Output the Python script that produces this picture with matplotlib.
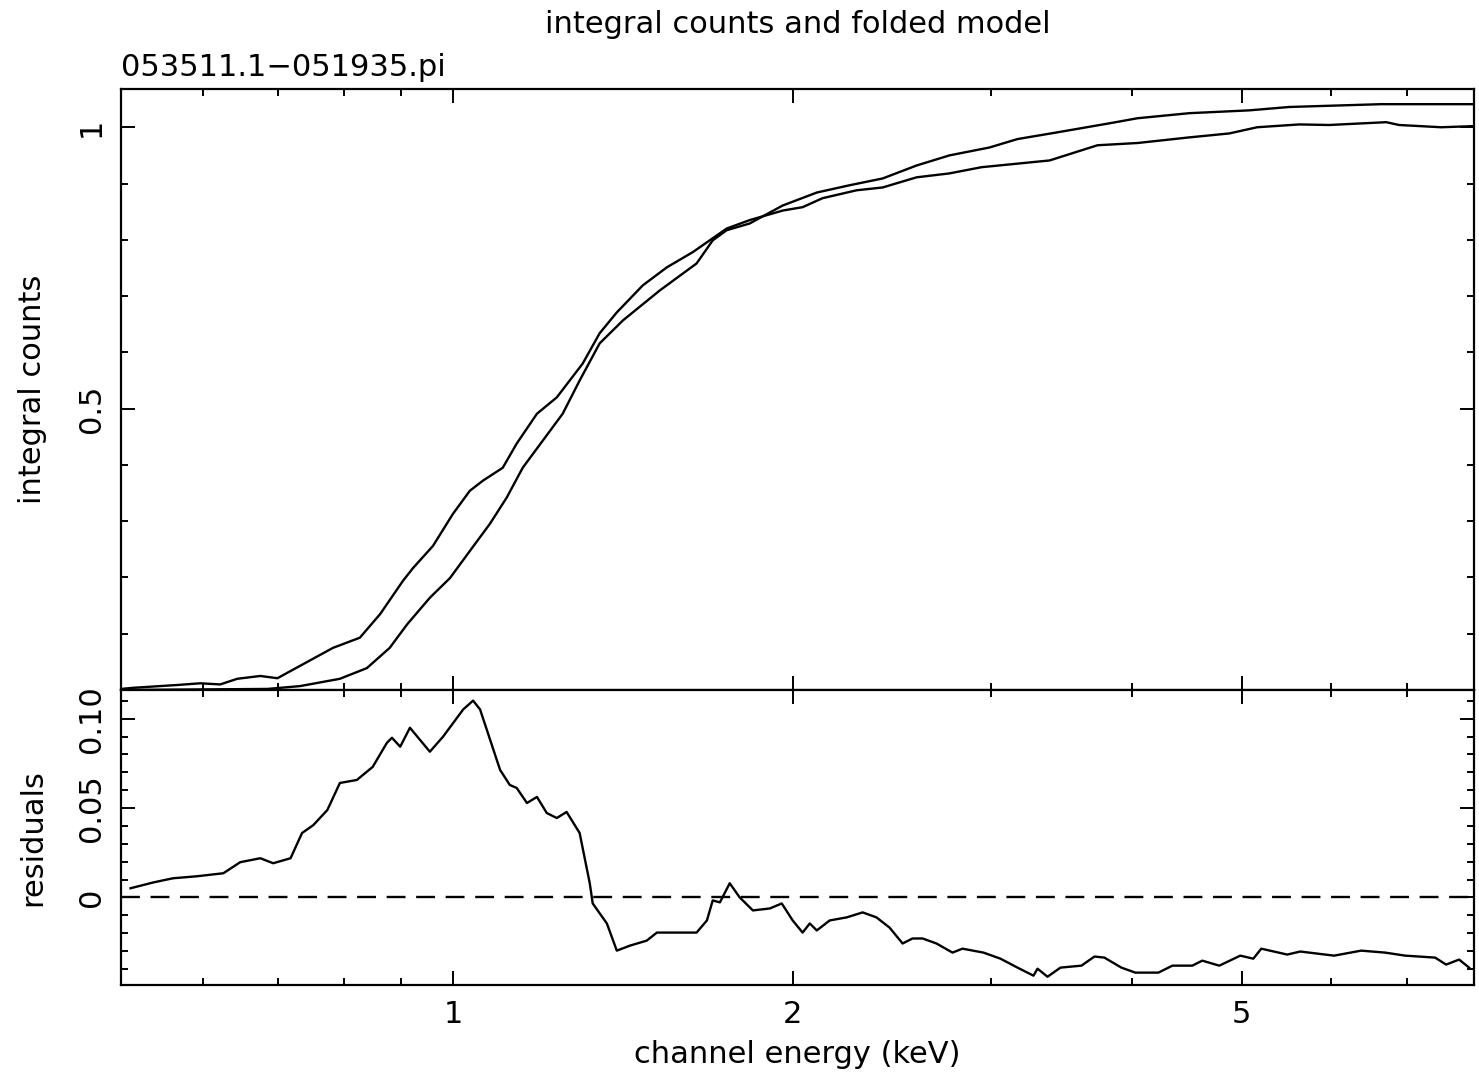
import matplotlib
matplotlib.use('Agg')
import matplotlib.pyplot as plt
from matplotlib.ticker import FixedLocator, NullFormatter

# integral (cumulative) counts of the spectrum
data_energy = [0.508, 0.521, 0.570, 0.597, 0.622, 0.644, 0.675, 0.699, 0.732, 0.783,
               0.827, 0.862, 0.903, 0.922, 0.960, 1.000, 1.035, 1.063, 1.107, 1.139,
               1.187, 1.236, 1.269, 1.303, 1.349, 1.397, 1.473, 1.547, 1.631, 1.748,
               1.832, 1.960, 2.041, 2.126, 2.279, 2.403, 2.575, 2.754, 2.940, 3.378,
               3.725, 4.042, 4.493, 4.874, 5.160, 5.622, 5.976, 6.713, 6.893, 7.510, 8.03]
data_counts = [0.002, 0.004, 0.009, 0.012, 0.010, 0.020, 0.025, 0.021, 0.043, 0.075,
               0.093, 0.135, 0.194, 0.217, 0.256, 0.313, 0.354, 0.372, 0.395, 0.438,
               0.491, 0.520, 0.550, 0.580, 0.634, 0.671, 0.719, 0.751, 0.778, 0.820,
               0.835, 0.852, 0.858, 0.874, 0.888, 0.893, 0.911, 0.918, 0.929, 0.941,
               0.968, 0.972, 0.982, 0.989, 1.000, 1.005, 1.004, 1.009, 1.004, 1.000, 1.002]

# integral counts of the folded model
model_energy = [0.508, 0.685, 0.732, 0.794, 0.839, 0.879, 0.911, 0.954, 0.994, 1.035,
                1.078, 1.116, 1.153, 1.201, 1.251, 1.295, 1.349, 1.415, 1.525, 1.644,
                1.699, 1.748, 1.832, 1.960, 2.101, 2.247, 2.403, 2.575, 2.754, 2.988,
                3.164, 3.433, 3.817, 4.042, 4.493, 5.077, 5.508, 6.646, 8.03]
model_counts = [0.000, 0.002, 0.007, 0.020, 0.039, 0.075, 0.117, 0.164, 0.199, 0.247,
                0.295, 0.342, 0.395, 0.443, 0.491, 0.550, 0.616, 0.657, 0.710, 0.758,
                0.799, 0.817, 0.829, 0.861, 0.884, 0.897, 0.909, 0.932, 0.950, 0.964,
                0.979, 0.991, 1.007, 1.016, 1.025, 1.030, 1.036, 1.041, 1.041]

# residuals (data - model)
resid_energy = [0.518, 0.543, 0.565, 0.593, 0.626, 0.648, 0.675, 0.693, 0.718, 0.735,
                0.752, 0.774, 0.794, 0.822, 0.849, 0.874, 0.883, 0.898, 0.916, 0.954,
                0.980, 1.021, 1.042, 1.057, 1.101, 1.123, 1.139, 1.163, 1.187, 1.211,
                1.236, 1.261, 1.295, 1.322, 1.330, 1.369, 1.397, 1.435, 1.485, 1.516,
                1.566, 1.644, 1.679, 1.699, 1.724, 1.759, 1.795, 1.844, 1.909, 1.956,
                2.000, 2.041, 2.071, 2.101, 2.157, 2.233, 2.307, 2.373, 2.437, 2.503,
                2.554, 2.607, 2.682, 2.771, 2.828, 2.952, 3.056, 3.164, 3.269, 3.296,
                3.364, 3.454, 3.605, 3.702, 3.778, 3.911, 4.024, 4.218, 4.340, 4.520,
                4.613, 4.776, 4.985, 5.119, 5.203, 5.486, 5.633, 6.036, 6.379, 6.699,
                6.979, 7.418, 7.586, 7.790, 7.951]
resid = [0.0051, 0.0084, 0.0107, 0.0118, 0.0135, 0.0197, 0.0219, 0.0191, 0.0219, 0.0360,
         0.0404, 0.0489, 0.0640, 0.0657, 0.0730, 0.0865, 0.0893, 0.0843, 0.0949, 0.0815,
         0.0899, 0.1051, 0.1101, 0.1051, 0.0713, 0.0629, 0.0612, 0.0528, 0.0562, 0.0472,
         0.0444, 0.0478, 0.0360, 0.0079, -0.0034, -0.0146, -0.0298, -0.0270, -0.0242, -0.0197,
         -0.0197, -0.0197, -0.0129, -0.0017, -0.0028, 0.0079, 0.0000, -0.0073, -0.0062, -0.0034,
         -0.0129, -0.0197, -0.0146, -0.0185, -0.0129, -0.0112, -0.0084, -0.0112, -0.0169, -0.0258,
         -0.0230, -0.0230, -0.0258, -0.0309, -0.0287, -0.0309, -0.0343, -0.0393, -0.0438, -0.0399,
         -0.0444, -0.0393, -0.0382, -0.0331, -0.0337, -0.0393, -0.0421, -0.0421, -0.0382, -0.0382,
         -0.0354, -0.0382, -0.0326, -0.0343, -0.0287, -0.0320, -0.0303, -0.0326, -0.0298, -0.0309,
         -0.0326, -0.0337, -0.0376, -0.0348, -0.0393]

x_major = [1, 2, 5]
x_minor = [0.6, 0.7, 0.8, 0.9, 3, 4, 6, 7]

FS = 22
lw = 1.7

fig = plt.figure(figsize=(14.79, 10.72), dpi=100)
ax1 = fig.add_axes([0.0818, 0.3563, 0.9148, 0.5607])
ax2 = fig.add_axes([0.0818, 0.0812, 0.9148, 0.2751], sharex=ax1)

ax1.plot(data_energy, data_counts, color='black', lw=lw)
ax1.plot(model_energy, model_counts, color='black', lw=lw)
ax2.plot(resid_energy, resid, color='black', lw=lw)
ax2.axhline(0, color='black', lw=lw, linestyle=(0, (8, 4.5)))

ax1.set_xscale('log')
ax1.set_xlim(0.508, 8.03)
ax1.set_ylim(0, 1.068)
ax2.set_ylim(-0.049, 0.116)

for ax in (ax1, ax2):
    ax.xaxis.set_major_locator(FixedLocator(x_major))
    ax.xaxis.set_minor_locator(FixedLocator(x_minor))
    ax.xaxis.set_minor_formatter(NullFormatter())
    ax.tick_params(which='both', direction='in', top=True, right=True, width=1.4, colors='black')
    ax.tick_params(which='major', length=10)
    ax.tick_params(which='minor', length=5)
    for s in ax.spines.values():
        s.set_linewidth(1.6)

ax1.set_yticks([0.5, 1.0])
ax1.set_yticklabels(['0.5', '1'])
ax1.yaxis.set_minor_locator(FixedLocator([0.1, 0.2, 0.3, 0.4, 0.6, 0.7, 0.8, 0.9]))
ax1.tick_params(axis='x', labelbottom=False)
ax1.tick_params(axis='y', labelsize=FS, pad=11)
for t in ax1.get_yticklabels():
    t.set_rotation(90)
    t.set_va('center')

ax2.set_yticks([0, 0.05, 0.10])
ax2.set_yticklabels(['0', '0.05', '0.10'])
ax2.yaxis.set_minor_locator(FixedLocator([-0.04, -0.03, -0.02, -0.01, 0.01, 0.02, 0.03, 0.04,
                                          0.06, 0.07, 0.08, 0.09, 0.11]))
ax2.set_xticklabels(['1', '2', '5'])
ax2.tick_params(axis='both', labelsize=FS)
ax2.tick_params(axis='y', pad=11)
ax2.tick_params(axis='x', pad=11)
for t in ax2.get_yticklabels():
    t.set_rotation(90)
    t.set_va('center')

ax1.set_ylabel('integral counts', fontsize=FS)
ax2.set_ylabel('residuals', fontsize=FS)
ax2.set_xlabel('channel energy (keV)', fontsize=FS, labelpad=8)
ax1.yaxis.set_label_coords(-0.0547, 0.5)
ax2.yaxis.set_label_coords(-0.0547, 0.5)

fig.text(0.5393, 0.9767, 'integral counts and folded model', ha='center', va='center', fontsize=FS)
ax1.text(0.0, 1.012, '053511.1\u2212051935.pi', transform=ax1.transAxes,
         ha='left', va='bottom', fontsize=FS)

fig.savefig('out.png', dpi=100)
